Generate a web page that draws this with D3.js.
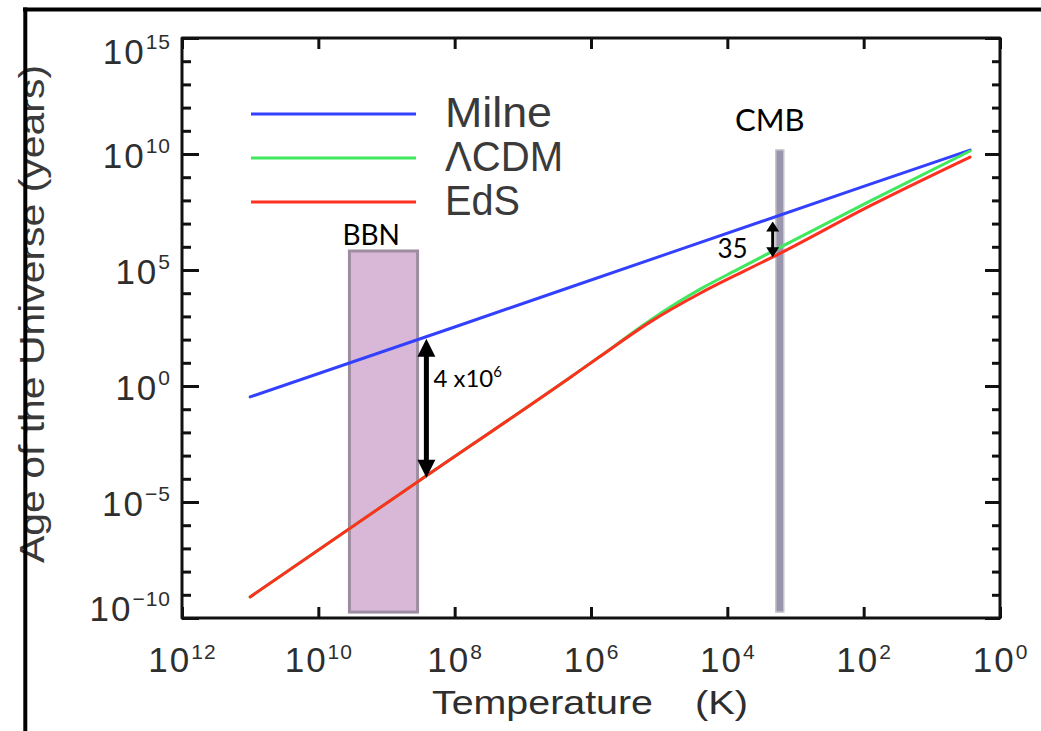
<!DOCTYPE html>
<html>
<head>
<meta charset="utf-8">
<script src="https://cdn.jsdelivr.net/npm/d3@7"></script>
<style>
  html, body { margin: 0; padding: 0; background: #fff; }
  svg { display: block; }
</style>
</head>
<body>
<svg id="chart" width="1041" height="731"></svg>
<script>
// Age of the universe (years) against radiation temperature (K) for three models
const milneTemps = [1e11, 1e8, 1e5, 1e2, 2.75];
const milneAges  = [0.34, 3.5e2, 3.8e5, 4.0e8, 1.48e10];

const lcdmTemps = [1e11, 3.7e8, 2.0e6, 7.4e5, 1.35e5, 2.5e4, 6.5e3, 1.86e3, 81, 2.75];
const lcdmAges  = [8.1e-10, 6.6e-5, 2.4, 18.6, 6.9e2, 1.5e4, 1.2e5, 8.1e5, 9.3e7, 1.35e10];

const edsTemps = [1e11, 3.7e8, 2.0e6, 7.4e5, 1.35e5, 2.5e4, 6.5e3, 1.86e3, 81, 2.75];
const edsAges  = [8.1e-10, 6.6e-5, 2.4, 18.6, 5.8e2, 1.0e4, 7.4e4, 4.5e5, 5.8e7, 7.4e9];

const seriesNames  = ["Milne", "\u039BCDM", "EdS"];
const seriesColors = ["#3340ff", "#3fe85c", "#ff3020"];

// Epoch markers
const bbnTemps = [3.5e9, 3.5e8];
const bbnAges  = [6.6e5, 1.8e-10];
const cmbTemp  = 1.7e3;
const cmbAges  = [1.5e10, 1.8e-10];

// Ratio arrows between models
const bbnArrowTemp = 2.6e8;
const bbnRatioBase = "4 x10";
const bbnRatioExp  = "6";
const cmbArrowTemp = 2.16e3;
const cmbRatioText = "35";

// Axis ticks
const xTicks = [1e12, 1e10, 1e8, 1e6, 1e4, 1e2, 1e0];
const xTickExponents = ["12", "10", "8", "6", "4", "2", "0"];
const yTicks = [1e15, 1e10, 1e5, 1e0, 1e-5, 1e-10];
const yTickExponents = ["15", "10", "5", "0", "\u22125", "\u221210"];
const yMinorTicks = d3.range(-10, 16).map(e => Math.pow(10, e));

const svg = d3.select("#chart");
const plotLeft = 182, plotRight = 1000, plotTop = 38, plotBottom = 618;

const x = d3.scaleLog().domain([1e12, 1]).range([plotLeft, plotRight]);
const y = d3.scaleLog().domain([1e-10, 1e15]).range([plotBottom, plotTop]);

const axisFont = "'Liberation Sans', Arial, sans-serif";
const noteFont = "Lato, 'Open Sans', sans-serif";
const textGray = "#2e2e2e";

// Epoch bands (drawn under the curves)
svg.append("rect")
  .attr("x", x(bbnTemps[0]))
  .attr("y", y(bbnAges[0]))
  .attr("width", x(bbnTemps[1]) - x(bbnTemps[0]))
  .attr("height", y(bbnAges[1]) - y(bbnAges[0]))
  .attr("fill", "#d8b8d6")
  .attr("stroke", "#9e8da0")
  .attr("stroke-width", 3);

svg.append("rect")
  .attr("x", x(cmbTemp) - 4)
  .attr("y", y(cmbAges[0]))
  .attr("width", 8)
  .attr("height", y(cmbAges[1]) - y(cmbAges[0]))
  .attr("fill", "#9a95ad")
  .attr("stroke", "#c6c4ce")
  .attr("stroke-width", 1.5);

// Model curves
const models = [
  { temps: milneTemps, ages: milneAges },
  { temps: lcdmTemps, ages: lcdmAges },
  { temps: edsTemps, ages: edsAges }
];
const line = d3.line().x(d => x(d[0])).y(d => y(d[1])).curve(d3.curveMonotoneX);
models.forEach((m, i) => {
  svg.append("path")
    .datum(d3.zip(m.temps, m.ages))
    .attr("d", line)
    .attr("fill", "none")
    .attr("stroke", seriesColors[i])
    .attr("stroke-width", 3)
    .attr("stroke-linecap", "round");
});

// Axes: ticks from d3 axes, box drawn as one rectangle
function styleAxis(g) {
  g.select(".domain").remove();
  g.selectAll(".tick line").attr("stroke", "#111").attr("stroke-width", 3);
}
function powerLabels(g, exps, supDy) {
  g.selectAll(".tick text").each(function(d, i) {
    const t = d3.select(this).text(null)
      .attr("fill", textGray)
      .attr("font-family", axisFont)
      .attr("font-size", 35)
      .attr("letter-spacing", 2);
    t.append("tspan").text("10");
    t.append("tspan").attr("dy", supDy).attr("font-size", 21).attr("letter-spacing", 1).text(exps[i]);
  });
}

const xAxisBottom = svg.append("g")
  .attr("transform", `translate(0,${plotBottom})`)
  .call(d3.axisBottom(x).tickValues(xTicks).tickSize(-11).tickSizeOuter(0).tickPadding(0))
  .call(styleAxis)
  .call(g => powerLabels(g, xTickExponents, -13));
xAxisBottom.selectAll(".tick text").attr("y", 54).attr("dy", 0);

svg.append("g")
  .attr("transform", `translate(0,${plotTop})`)
  .call(d3.axisTop(x).tickValues(xTicks).tickSize(-11).tickSizeOuter(0).tickFormat(""))
  .call(styleAxis);

const yAxisLeft = svg.append("g")
  .attr("transform", `translate(${plotLeft},0)`)
  .call(d3.axisLeft(y).tickValues(yTicks).tickSize(-17).tickSizeOuter(0).tickPadding(11))
  .call(styleAxis)
  .call(g => powerLabels(g, yTickExponents, -15));
yAxisLeft.selectAll(".tick text")
  .attr("dy", 0)
  .attr("y", (d, i) => 13 + (i === 0 ? 12 : 0) + (i === yTicks.length - 1 ? -11 : 0));

svg.append("g")
  .attr("transform", `translate(${plotLeft},0)`)
  .call(d3.axisLeft(y).tickValues(yMinorTicks).tickSize(-9).tickSizeOuter(0).tickFormat(""))
  .call(styleAxis);

svg.append("g")
  .attr("transform", `translate(${plotRight},0)`)
  .call(d3.axisRight(y).tickValues(yTicks).tickSize(-15).tickSizeOuter(0).tickFormat(""))
  .call(styleAxis);
svg.append("g")
  .attr("transform", `translate(${plotRight},0)`)
  .call(d3.axisRight(y).tickValues(yMinorTicks).tickSize(-8).tickSizeOuter(0).tickFormat(""))
  .call(styleAxis);

svg.append("rect")
  .attr("x", plotLeft).attr("y", plotTop)
  .attr("width", plotRight - plotLeft).attr("height", plotBottom - plotTop)
  .attr("fill", "none")
  .attr("stroke", "#111")
  .attr("stroke-width", 3)
  .attr("stroke-linejoin", "round");

// Axis titles
svg.append("text")
  .attr("x", 432).attr("y", 714)
  .attr("font-family", axisFont).attr("font-size", 33).attr("fill", textGray)
  .attr("textLength", 221).attr("lengthAdjust", "spacingAndGlyphs")
  .text("Temperature");
svg.append("text")
  .attr("x", 695).attr("y", 714)
  .attr("font-family", axisFont).attr("font-size", 33).attr("fill", textGray)
  .attr("textLength", 53).attr("lengthAdjust", "spacingAndGlyphs")
  .text("(K)");

svg.append("text")
  .attr("transform", "translate(44,314) rotate(-90)")
  .attr("text-anchor", "middle")
  .attr("font-family", axisFont).attr("font-size", 35).attr("fill", "#3a3a3a")
  .attr("textLength", 498).attr("lengthAdjust", "spacingAndGlyphs")
  .text("Age of the Universe (years)");

// Legend
const legendRows = [114, 158, 202];
const legendWidths = [107, 118, 75];
seriesNames.forEach((name, i) => {
  svg.append("line")
    .attr("x1", 251).attr("x2", 416)
    .attr("y1", legendRows[i]).attr("y2", legendRows[i])
    .attr("stroke", seriesColors[i]).attr("stroke-width", 3);
  svg.append("text")
    .attr("x", 445).attr("y", legendRows[i] + 13)
    .attr("font-family", axisFont).attr("font-size", 42).attr("fill", "#3a3a3a")
    .attr("textLength", legendWidths[i]).attr("lengthAdjust", "spacingAndGlyphs")
    .text(name);
});

// Epoch labels
svg.append("text")
  .attr("x", x(bbnTemps[0]) - 7).attr("y", y(bbnAges[0]) - 6)
  .attr("font-family", noteFont).attr("font-size", 28).attr("fill", "#000")
  .text("BBN");
svg.append("text")
  .attr("x", x(cmbTemp) - 10).attr("y", y(cmbAges[0]) - 19)
  .attr("text-anchor", "middle")
  .attr("font-family", noteFont).attr("font-size", 31).attr("fill", "#000")
  .text("CMB");

// Double-headed arrows spanning the gap between two curves at a given temperature
function logInterp(temps, ages) {
  const s = d3.scaleLinear().domain(temps.map(Math.log10)).range(ages.map(Math.log10));
  return T => Math.pow(10, s(Math.log10(T)));
}
const milneAt = logInterp(milneTemps, milneAges);
const lcdmAt = logInterp(lcdmTemps, lcdmAges);
const edsAt = logInterp(edsTemps, edsAges);

function doubleArrow(cx, y1, y2, shaft, headW, headL) {
  const g = svg.append("g").attr("fill", "#000");
  g.append("rect")
    .attr("x", cx - shaft / 2).attr("y", y1 + headL - 1)
    .attr("width", shaft).attr("height", y2 - y1 - 2 * headL + 2);
  g.append("path").attr("d",
    `M${cx},${y1} L${cx + headW / 2},${y1 + headL} L${cx - headW / 2},${y1 + headL} Z`);
  g.append("path").attr("d",
    `M${cx},${y2} L${cx + headW / 2},${y2 - headL} L${cx - headW / 2},${y2 - headL} Z`);
}

const bx = x(bbnArrowTemp);
const by1 = y(milneAt(bbnArrowTemp)) + 2;
const by2 = y(edsAt(bbnArrowTemp)) + 2;
doubleArrow(bx, by1, by2, 5, 18, 18);
const bbnLabel = svg.append("text")
  .attr("x", bx + 7).attr("y", by1 + 48)
  .attr("font-family", noteFont).attr("font-size", 24).attr("fill", "#000");
bbnLabel.append("tspan").text(bbnRatioBase);
bbnLabel.append("tspan").attr("dy", -10).attr("font-size", 15).text(bbnRatioExp);

const cx = x(cmbArrowTemp);
const cy1 = y(milneAt(cmbArrowTemp)) + 4;
const cy2 = y(lcdmAt(cmbArrowTemp)) + 6;
doubleArrow(cx, cy1, cy2, 3, 13, 10);
svg.append("text")
  .attr("x", cx - 25).attr("y", cy2 + 1)
  .attr("text-anchor", "end")
  .attr("font-family", noteFont).attr("font-size", 26).attr("fill", "#000")
  .text(cmbRatioText);

// Outer page frame
svg.append("line")
  .attr("x1", 23).attr("x2", 1041).attr("y1", 9.5).attr("y2", 9.5)
  .attr("stroke", "#000").attr("stroke-width", 4);
svg.append("line")
  .attr("x1", 25.3).attr("x2", 25.3).attr("y1", 7.5).attr("y2", 731)
  .attr("stroke", "#000").attr("stroke-width", 4);
</script>
</body>
</html>
